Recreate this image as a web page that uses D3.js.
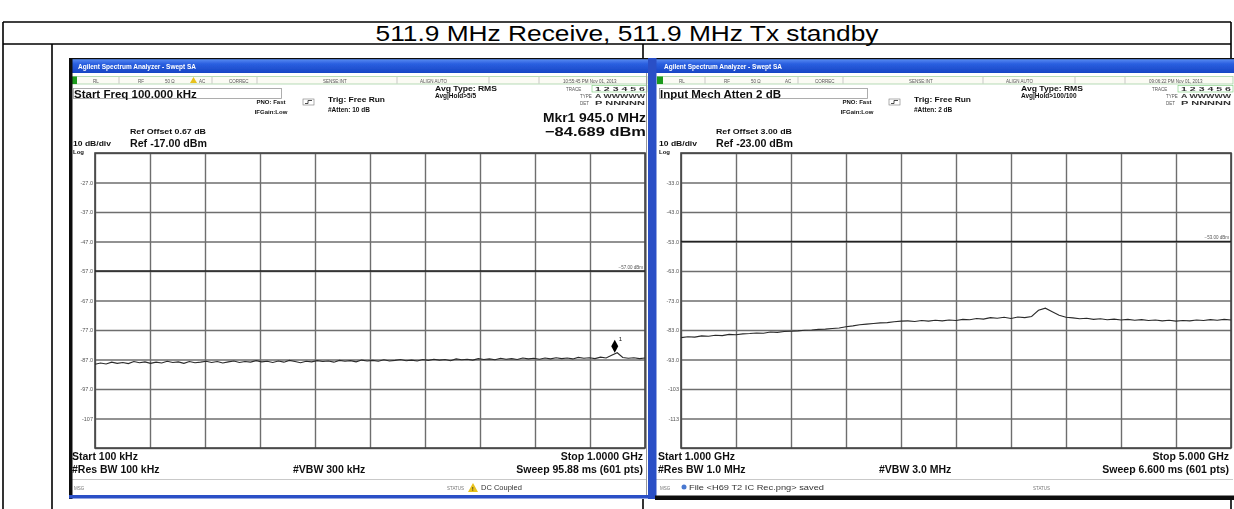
<!DOCTYPE html>
<html><head><meta charset="utf-8">
<script src="https://cdn.jsdelivr.net/npm/d3@7"></script>
<style>
html,body{margin:0;padding:0;background:#fff;}
svg{display:block;font-family:"Liberation Sans",Arial,sans-serif;}
</style></head><body>
<svg id="c" width="1234" height="509"></svg>
<script>
// ---- content ----
const titleText = "511.9 MHz Receive, 511.9 MHz Tx standby";

// Sweep A: 100 kHz to 1 GHz (MHz on x, dBm on y)
const spanA = [0.1, 1000];
const refA = -17;
const yLabelsA = ["-27.0","-37.0","-47.0","-57.0","-67.0","-77.0","-87.0","-97.0","-107"];
const dispLineA = -57;
const markerA = [945.0, -84.689];
const traceA = [
  -88.6,-88.2,-88.5,-87.9,-88.3,-88.0,-88.4,-87.7,-88.1,-87.8,
  -88.3,-87.9,-88.2,-87.6,-88.0,-87.8,-88.3,-87.7,-88.1,-87.9,
  -87.6,-88.0,-87.7,-88.2,-87.8,-87.5,-88.0,-87.7,-87.9,-87.4,
  -87.8,-87.6,-88.0,-87.5,-87.9,-87.3,-87.7,-88.1,-87.6,-87.8,
  -87.4,-87.7,-87.5,-87.9,-87.3,-87.6,-87.4,-87.8,-87.2,-87.5,
  -87.3,-87.6,-87.1,-87.5,-87.3,-87.0,-87.4,-87.2,-87.5,-87.0,
  -87.3,-86.9,-87.2,-87.0,-87.4,-86.8,-87.1,-86.9,-87.2,-86.7,
  -87.0,-86.8,-87.1,-86.6,-86.9,-86.7,-87.0,-86.5,-86.8,-86.6,
  -86.9,-86.5,-86.8,-86.4,-86.7,-86.5,-86.8,-86.3,-86.6,-86.4,
  -86.7,-86.2,-86.5,-85.6,-84.7,-86.3,-86.6,-86.4,-86.7,-86.5
];
const headA = ["Start Freq 100.000 kHz", "Ref Offset 0.67 dB", "Ref -17.00 dBm", "#Atten: 10 dB", "Avg|Hold>5/5"];
const footA = ["Start 100 kHz", "#Res BW 100 kHz", "#VBW 300 kHz", "Stop 1.0000 GHz", "Sweep  95.88 ms (601 pts)", "DC Coupled"];
const statusA = ["RL", "RF", "50 \u03A9", "AC", "CORREC", "SENSE:INT", "ALIGN AUTO", "10:55:45 PM Nov 01, 2013"];

// Sweep B: 1 GHz to 5 GHz
const spanB = [1000, 5000];
const refB = -23;
const yLabelsB = ["-33.0","-43.0","-53.0","-63.0","-73.0","-83.0","-93.0","-103","-113"];
const dispLineB = -53;
const traceB = [
  -85.6,-85.3,-85.4,-85.0,-85.1,-84.8,-84.9,-84.5,-84.6,-84.3,
  -84.2,-84.0,-84.1,-83.7,-83.8,-83.5,-83.4,-83.3,-83.1,-83.0,
  -82.8,-82.7,-82.5,-82.3,-81.9,-81.6,-81.2,-81.0,-80.8,-80.6,
  -80.5,-80.2,-80.0,-79.9,-80.1,-79.8,-80.0,-79.7,-79.9,-79.6,
  -79.8,-79.4,-79.5,-79.1,-79.3,-78.8,-79.0,-78.7,-79.1,-78.6,
  -78.8,-78.4,-76.3,-75.6,-76.8,-78.0,-78.7,-78.9,-79.2,-79.0,
  -79.4,-79.2,-79.5,-79.3,-79.6,-79.4,-79.7,-79.5,-79.8,-79.6,
  -79.9,-79.7,-80.0,-79.8,-79.9,-79.6,-79.8,-79.5,-79.7,-79.4,
  -79.6
];
const headB = ["Input Mech Atten 2 dB", "Ref Offset 3.00 dB", "Ref -23.00 dBm", "#Atten: 2 dB", "Avg|Hold>100/100"];
const footB = ["Start 1.000 GHz", "#Res BW 1.0 MHz", "#VBW 3.0 MHz", "Stop 5.000 GHz", "Sweep  6.600 ms (601 pts)", "File <H69 T2 IC Rec.png> saved"];
const statusB = ["RL", "RF", "50 \u03A9", "AC", "CORREC", "SENSE:INT", "ALIGN AUTO", "09:06:22 PM Nov 01, 2013"];

const dbPerDiv = 10;

// ---- drawing ----
const svg = d3.select("#c");
const defs = svg.append("defs");
const grad = defs.append("linearGradient").attr("id", "tbar")
  .attr("x1", 0).attr("y1", 0).attr("x2", 0).attr("y2", 1);
grad.append("stop").attr("offset", 0).attr("stop-color", "#5a8cf2");
grad.append("stop").attr("offset", 0.35).attr("stop-color", "#2a5fe0");
grad.append("stop").attr("offset", 1).attr("stop-color", "#1845c4");
defs.append("filter").attr("id", "soft").attr("x", "-2%").attr("y", "-2%").attr("width", "104%").attr("height", "104%")
  .append("feGaussianBlur").attr("stdDeviation", 0.7);

svg.append("rect").attr("width", 1234).attr("height", 509).attr("fill", "#fff");

// table grid
const T = { l: 3, r: 1231, t: 22, row: 44, c1: 52, c2: 643, b: 509 };
const tbl = svg.append("g").attr("stroke", "#000").attr("stroke-width", 1.6);
[[T.l, T.t, T.r, T.t], [T.l, T.row, T.r, T.row], [T.l, T.t, T.l, T.b], [T.r, T.t, T.r, T.b],
 [T.c1, T.row, T.c1, T.b], [T.c2, T.row, T.c2, T.b]].forEach(([x1, y1, x2, y2]) =>
  tbl.append("line").attr("x1", x1).attr("y1", y1).attr("x2", x2).attr("y2", y2));

svg.append("text").attr("x", 627).attr("y", 40.5).attr("text-anchor", "middle")
  .attr("font-size", 22).attr("fill", "#000")
  .attr("textLength", 503).attr("lengthAdjust", "spacingAndGlyphs")
  .text(titleText);

function txt(g, x, y, s, size, opts = {}) {
  const t = g.append("text").attr("x", x).attr("y", y).attr("font-size", size)
    .attr("fill", opts.fill || "#111").text(s);
  if (opts.bold !== false) t.attr("font-weight", "bold");
  if (opts.anchor) t.attr("text-anchor", opts.anchor);
  if (opts.len) t.attr("textLength", opts.len).attr("lengthAdjust", "spacingAndGlyphs");
  return t;
}

function drawWindow(g, p) {
  const W = 585, H = 441;
  const gx0 = 26, gx1 = 576, gy0 = 95, gy1 = 390;

  g.append("rect").attr("width", W).attr("height", H).attr("fill", "#fff");

  // title bar
  g.append("rect").attr("x", 0).attr("y", 1).attr("width", W).attr("height", 14).attr("fill", "url(#tbar)");
  txt(g, 9, 11, "Agilent Spectrum Analyzer - Swept SA", 6.5, { fill: "#fff", len: 118 });

  // instrument status row
  const sr = g.append("g");
  sr.append("rect").attr("x", 2).attr("y", 18.5).attr("width", W - 9).attr("height", 7.5)
    .attr("fill", "#fbfbf4").attr("stroke", "#9c9").attr("stroke-width", 0.7);
  sr.append("rect").attr("x", 2).attr("y", 18.5).attr("width", 6).attr("height", 7.5).attr("fill", "#1b9a1b");
  const sx = [24, 69, 96, 130, 160, 254, 351, 494];
  p.status.forEach((s, i) => txt(sr, sx[i], 24.5, s, 4.5, { fill: "#555", bold: false }));
  [50, 143, 188, 328, 420, 470].forEach(v => sr.append("line").attr("x1", v).attr("x2", v)
    .attr("y1", 19).attr("y2", 25.5).attr("stroke", "#aaa").attr("stroke-width", 0.6));
  if (p.warnTop) {
    sr.append("path").attr("d", "M121,25 l3.5,-6 l3.5,6 z").attr("fill", "#e8c21a");
  }

  // active parameter entry
  g.append("rect").attr("x", 4.5).attr("y", 30.5).attr("width", 208).attr("height", 10)
    .attr("fill", "#fff").attr("stroke", "#999").attr("stroke-width", 0.8);
  txt(g, 5, 39.5, p.head[0], 11.5);

  // acquisition settings
  txt(g, 202, 46, "PNO: Fast", 6, { anchor: "middle" });
  txt(g, 202, 56, "IFGain:Low", 6, { anchor: "middle" });
  g.append("rect").attr("x", 234).attr("y", 41).attr("width", 11).attr("height", 6)
    .attr("fill", "#fff").attr("stroke", "#777").attr("stroke-width", 0.6);
  g.append("path").attr("d", "M236,45.5 h3 v-3 h4").attr("fill", "none").attr("stroke", "#222").attr("stroke-width", 0.8);
  txt(g, 259, 43.5, "Trig: Free Run", 6.5, { len: 57 });
  txt(g, 259, 53.5, p.head[3], 6.5);
  txt(g, 366, 33, "Avg Type: RMS", 6.5, { len: 62 });
  txt(g, 366, 40, p.head[4], 6.5);

  // trace indicator block
  txt(g, 497, 33, "TRACE", 4.5, { fill: "#555", bold: false });
  g.append("rect").attr("x", 523).attr("y", 27.5).attr("width", 55).attr("height", 6.5)
    .attr("fill", "none").attr("stroke", "#7c7").attr("stroke-width", 0.6);
  txt(g, 526, 33, "1 2 3 4 5 6", 5, { fill: "#333", len: 50 });
  txt(g, 511, 40, "TYPE", 4.5, { fill: "#555", bold: false });
  txt(g, 526, 40, "A WWWWW", 5, { fill: "#333", len: 50 });
  txt(g, 511, 47, "DET", 4.5, { fill: "#555", bold: false });
  txt(g, 526, 47, "P NNNNN", 5, { fill: "#333", len: 50 });

  // reference info
  txt(g, 61, 76, p.head[1], 6.5, { len: 76 });
  txt(g, 4, 88, dbPerDiv + " dB/div", 6.5, { len: 38 });
  txt(g, 61, 89, p.head[2], 11, { len: 77 });
  txt(g, 4, 96, "Log", 6);

  // scales
  const x = d3.scaleLinear().domain(p.span).range([gx0, gx1]);
  const y = d3.scaleLinear().domain([p.ref - 10 * dbPerDiv, p.ref]).range([gy1, gy0]);

  // graticule
  const levels = d3.range(11).map(k => p.ref - dbPerDiv * k);
  const ya = g.append("g").attr("transform", `translate(${gx0},0)`)
    .call(d3.axisLeft(y).tickValues(levels).tickSize(-(gx1 - gx0)).tickPadding(2)
      .tickFormat((d, i) => (i >= 1 && i <= 9) ? p.yLabels[i - 1] : ""));
  ya.select(".domain").remove();
  ya.selectAll("line").attr("stroke", "#6e6e6e").attr("stroke-width", 1.4);
  ya.selectAll("text").attr("font-size", 5.5).attr("fill", "#555")
    .attr("font-family", "Liberation Sans, Arial, sans-serif");

  const cols = d3.range(11).map(k => p.span[0] + k * (p.span[1] - p.span[0]) / 10);
  const xa = g.append("g").attr("transform", `translate(0,${gy1})`)
    .call(d3.axisBottom(x).tickValues(cols).tickSize(-(gy1 - gy0)).tickFormat(""));
  xa.select(".domain").remove();
  xa.selectAll("line").attr("stroke", "#6e6e6e").attr("stroke-width", 1.4);

  g.append("rect").attr("x", gx0).attr("y", gy0).attr("width", gx1 - gx0).attr("height", gy1 - gy0)
    .attr("fill", "none").attr("stroke", "#444").attr("stroke-width", 1.6);

  // display line
  g.append("line").attr("x1", gx0).attr("x2", gx1).attr("y1", y(p.disp)).attr("y2", y(p.disp))
    .attr("stroke", "#222").attr("stroke-width", 1.5);
  txt(g, gx1 - 2, y(p.disp) - 2.5, d3.format(".2f")(p.disp) + " dBm", 4.5, { anchor: "end", fill: "#555", bold: false });

  // trace
  const n = p.trace.length;
  const fAt = i => p.span[0] + i * (p.span[1] - p.span[0]) / (n - 1);
  g.append("path").datum(p.trace)
    .attr("d", d3.line().x((d, i) => x(fAt(i))).y(d => y(d)))
    .attr("fill", "none").attr("stroke", "#2a2a2a").attr("stroke-width", 1.1);

  // marker
  if (p.marker) {
    const mx = x(p.marker[0]), my = y(p.marker[1]);
    g.append("path").attr("d", `M${mx},${my} l-3.5,-6.5 l3.5,-6.5 l3.5,6.5 z`).attr("fill", "#000");
    txt(g, mx + 4, my - 12, "1", 6, { bold: false });
    txt(g, 577, 64, `Mkr1 ${d3.format(".1f")(p.marker[0])} MHz`, 13, { anchor: "end", len: 103 });
    txt(g, 577, 78, `${d3.format(".3f")(p.marker[1])} dBm`, 13, { anchor: "end", len: 101 });
  }

  // sweep settings
  txt(g, 3, 402, p.foot[0], 10.5);
  txt(g, 3, 415, p.foot[1], 10.5);
  txt(g, 224, 415, p.foot[2], 10.5);
  txt(g, 574, 402, p.foot[3], 10.5, { anchor: "end" });
  txt(g, 574, 415, p.foot[4], 10.5, { anchor: "end" });

  // message / status bar
  g.append("line").attr("x1", 1).attr("x2", 578).attr("y1", 421.5).attr("y2", 421.5)
    .attr("stroke", "#bbb").attr("stroke-width", 0.8);
  txt(g, 5, 432, "MSG", 4.5, { fill: "#777", bold: false });
  txt(g, 378, 432, "STATUS", 4.5, { fill: "#777", bold: false });
  if (p.frame === "A") {
    g.append("path").attr("d", "M399,434 l5,-9 l5,9 z").attr("fill", "#e8c21a");
    txt(g, 403, 433, "!", 5, { fill: "#222" });
    txt(g, 412, 432, p.foot[5], 7.5, { bold: false, fill: "#333" });
  } else {
    g.append("circle").attr("cx", 29).attr("cy", 429).attr("r", 2.5).attr("fill", "#4a78d0");
    txt(g, 34, 432, p.foot[5], 7.5, { bold: false, fill: "#333", len: 135 });
  }

  // window frame
  if (p.frame === "A") {
    g.append("rect").attr("x", 0).attr("y", 0).attr("width", 3.5).attr("height", H).attr("fill", "#111");
    g.append("rect").attr("x", 0).attr("y", 0).attr("width", W).attr("height", 1.2).attr("fill", "#111");
    g.append("line").attr("x1", 577.5).attr("x2", 577.5).attr("y1", 15).attr("y2", 437)
      .attr("stroke", "#999").attr("stroke-width", 1);
    g.append("rect").attr("x", 579).attr("y", 0).attr("width", 5).attr("height", H).attr("fill", "#2b4fc6");
    g.append("rect").attr("x", 0).attr("y", 437).attr("width", W).attr("height", 3.5).attr("fill", "#2b4fc6");
  } else {
    g.append("rect").attr("x", 0).attr("y", 0).attr("width", W).attr("height", 1.2).attr("fill", "#111");
    g.append("rect").attr("x", -2).attr("y", 0).attr("width", 3.5).attr("height", H).attr("fill", "#2b4fc6");
    g.append("rect").attr("x", 0).attr("y", 437.5).attr("width", W).attr("height", 4.5).attr("fill", "#111");
  }
}

const winA = svg.append("g").attr("transform", "translate(69,58)").attr("filter", "url(#soft)");
drawWindow(winA, { span: spanA, ref: refA, yLabels: yLabelsA, disp: dispLineA, trace: traceA,
  marker: markerA, head: headA, foot: footA, status: statusA, frame: "A", warnTop: true });

const winB = svg.append("g").attr("transform", "translate(655,58)").attr("filter", "url(#soft)");
drawWindow(winB, { span: spanB, ref: refB, yLabels: yLabelsB, disp: dispLineB, trace: traceB,
  marker: null, head: headB, foot: footB, status: statusB, frame: "B", warnTop: false });
</script>
</body></html>
